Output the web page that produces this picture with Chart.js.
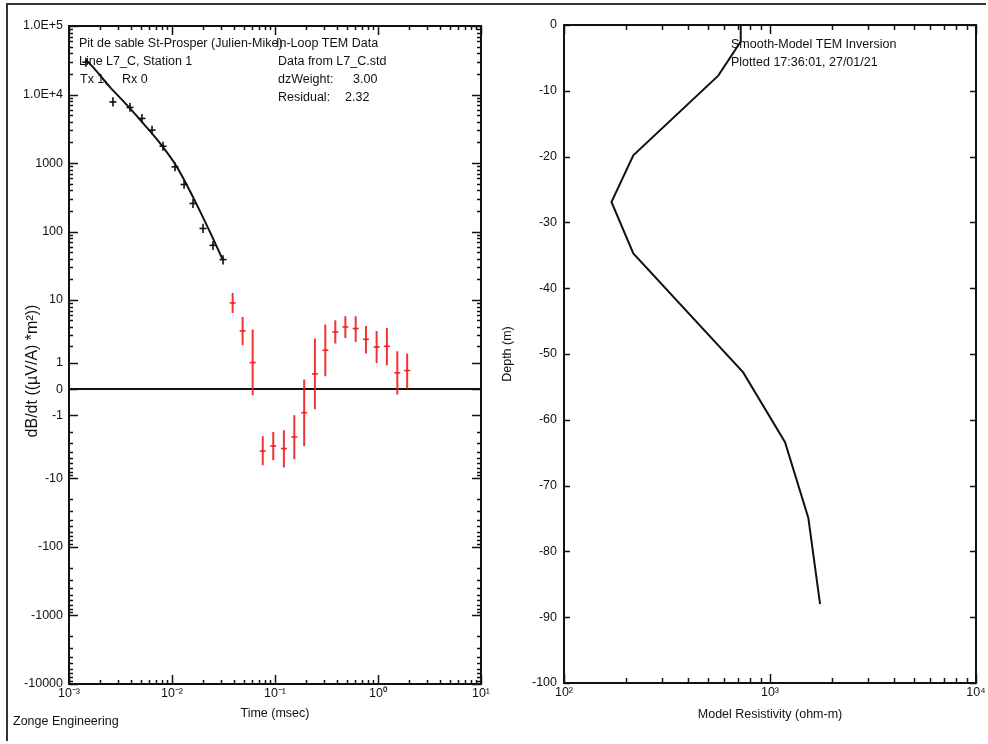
<!DOCTYPE html>
<html>
<head>
<meta charset="utf-8">
<script src="https://cdn.jsdelivr.net/npm/chart.js@4/dist/chart.umd.min.js"></script>
<style>
  body { margin: 0; background: #fff; }
  #frame { position: absolute; left: 6px; top: 3px; width: 978px; height: 736px; border: 2px solid #333; border-right: none; border-bottom: none; }
  canvas { position: absolute; top: 0; }
  #left { left: 0; }
  #right { left: 494px; }
</style>
</head>
<body>
<div id="frame"></div>
<canvas id="left" width="494" height="744"></canvas>
<canvas id="right" width="494" height="744"></canvas>
<script>
// données
const timeTicks = [0.001, 0.01, 0.1, 1, 10];
const timeLabels = ['10\u207B\u00B3', '10\u207B\u00B2', '10\u207B\u00B9', '10\u2070', '10\u00B9'];
const dbdtTicks = [1e5, 1e4, 1000, 100, 10, 1, 0, -1, -10, -100, -1000, -10000];
const dbdtLabels = ['1.0E+5', '1.0E+4', '1000', '100', '10', '1', '0', '-1', '-10', '-100', '-1000', '-10000'];

// points mesurés (noirs)
const goodTime = [0.00146, 0.00267, 0.00391, 0.00511, 0.0064, 0.00818, 0.0107, 0.0131, 0.016, 0.02, 0.025, 0.0313];
const goodVal  = [29700, 7800, 6470, 4480, 3020, 1760, 880, 486, 257, 111, 63, 39];
const goodLow  = [25500, 6700, 5600, 3850, 2600, 1510, 760, 420, 220, 95, 54, 33];
const goodHigh = [34500, 9100, 7500, 5200, 3500, 2050, 1020, 565, 300, 130, 73, 45];

// points mesurés (rouges)
const badTime = [0.0388, 0.0485, 0.0607, 0.076, 0.0962, 0.122, 0.154, 0.192, 0.244, 0.308, 0.385, 0.482, 0.607, 0.764, 0.97, 1.22, 1.54, 1.92];
const badVal  = [9.07, 3.48, 1.02, -3.92, -3.29, -3.6, -2.38, -0.87, 0.54, 1.72, 3.36, 4.0, 3.78, 2.59, 1.95, 2.0, 0.58, 0.67];
const badLow  = [6.46, 2.08, -0.2, -6.4, -5.39, -6.91, -5.21, -3.29, -0.72, 0.45, 2.22, 2.71, 2.35, 1.51, 1.0, 0.9, -0.18, 0.02];
const badHigh = [12.7, 5.64, 3.65, -2.32, -1.98, -1.86, -0.99, 0.33, 2.66, 4.34, 5.03, 5.77, 5.77, 4.14, 3.48, 3.86, 1.65, 1.51];

// courbe du modèle
const modelTime = [0.00146, 0.00171, 0.0025, 0.00366, 0.00523, 0.00764, 0.0112, 0.016, 0.0234, 0.0313];
const modelVal  = [31800, 25100, 12820, 7000, 3820, 1950, 871, 318, 98, 38];

// modèle de résistivité
const resTicks = [100, 1000, 10000];
const resLabels = ['10\u00B2', '10\u00B3', '10\u2074'];
const depthTicks = [0, -10, -20, -30, -40, -50, -60, -70, -80, -90, -100];
const resistivity = [721, 721, 561, 217, 170, 217, 741, 1183, 1535, 1750];
const depth = [0, -2.5, -7.7, -19.8, -26.9, -34.7, -52.8, -63.4, -74.9, -88.0];

const FONT = '"Liberation Sans", Arial, sans-serif';
Chart.defaults.font.family = FONT;
Chart.defaults.font.size = 12.5;
Chart.defaults.color = '#111';

// échelle asinh (log symétrique) pour dB/dt
class AsinhScale extends Chart.Scale {
  determineDataLimits() {
    this.min = this.options.min;
    this.max = this.options.max;
  }
  buildTicks() {
    return dbdtTicks.map(v => ({ value: v }));
  }
  configure() {
    super.configure();
    this._lo = Math.asinh(this.min);
    this._range = Math.asinh(this.max) - this._lo;
  }
  getPixelForValue(v) {
    return this.getPixelForDecimal((Math.asinh(v) - this._lo) / this._range);
  }
  getValueForPixel(p) {
    return Math.sinh(this._lo + this.getDecimalForPixel(p) * this._range);
  }
}
AsinhScale.id = 'asinh';
AsinhScale.defaults = {};
Chart.register(AsinhScale);

function decadeMinors(from, to) {
  const out = [];
  for (let d = from; d < to; d *= 10) {
    for (let k = 2; k <= 9; k++) out.push(k * d);
  }
  return out;
}

// petites graduations vers l'intérieur + cadre
const innerTicks = {
  id: 'innerTicks',
  afterDraw(chart, args, opts) {
    const ctx = chart.ctx;
    const a = chart.chartArea;
    ctx.save();
    ctx.strokeStyle = '#111';
    ctx.lineWidth = 1.5;
    ctx.beginPath();
    (opts.x || []).forEach(([v, len]) => {
      const px = Math.round(chart.scales.x.getPixelForValue(v)) + 0.5;
      ctx.moveTo(px, a.bottom); ctx.lineTo(px, a.bottom - len);
      ctx.moveTo(px, a.top); ctx.lineTo(px, a.top + len);
    });
    (opts.y || []).forEach(([v, len]) => {
      const py = Math.round(chart.scales.y.getPixelForValue(v)) + 0.5;
      ctx.moveTo(a.left, py); ctx.lineTo(a.left + len, py);
      ctx.moveTo(a.right, py); ctx.lineTo(a.right - len, py);
    });
    ctx.stroke();
    ctx.lineWidth = 2;
    ctx.strokeRect(a.left, a.top, a.width, a.height);
    ctx.restore();
  }
};

// barres d'erreur
const errorBars = {
  id: 'errorBars',
  beforeDatasetsDraw(chart) {
    const ctx = chart.ctx;
    const xs = chart.scales.x, ys = chart.scales.y;
    chart.data.datasets.forEach(ds => {
      if (!ds.errLow) return;
      ctx.save();
      ctx.strokeStyle = ds.borderColor;
      ctx.lineWidth = ds.barWidth;
      ctx.beginPath();
      ds.data.forEach((p, i) => {
        const px = xs.getPixelForValue(p.x);
        ctx.moveTo(px, ys.getPixelForValue(ds.errLow[i]));
        ctx.lineTo(px, ys.getPixelForValue(ds.errHigh[i]));
      });
      ctx.stroke();
      ctx.restore();
    });
  }
};

// textes libres
const freeText = {
  id: 'freeText',
  afterDraw(chart, args, opts) {
    const ctx = chart.ctx;
    ctx.save();
    ctx.fillStyle = '#111';
    ctx.textBaseline = 'middle';
    (opts.items || []).forEach(t => {
      ctx.save();
      ctx.font = (t.size || 12.5) + 'px ' + FONT;
      ctx.translate(t.x, t.y);
      if (t.rot) ctx.rotate(t.rot);
      ctx.textAlign = t.align || 'left';
      ctx.fillText(t.text, 0, 0);
      ctx.restore();
    });
    ctx.restore();
  }
};

const timeMarks = timeTicks.map(v => [v, 9]).concat(decadeMinors(0.001, 10).map(v => [v, 4]));
const posMinor = decadeMinors(1, 1e5);
const dbdtMarks = dbdtTicks.map(v => [v, 9])
  .concat(posMinor.map(v => [v, 4]))
  .concat(decadeMinors(1, 1e4).map(v => [-v, 4]));

new Chart(document.getElementById('left'), {
  type: 'scatter',
  data: {
    datasets: [
      {
        data: modelTime.map((t, i) => ({ x: t, y: modelVal[i] })),
        showLine: true,
        borderColor: '#111',
        borderWidth: 2,
        pointRadius: 0,
        cubicInterpolationMode: 'monotone'
      },
      {
        data: goodTime.map((t, i) => ({ x: t, y: goodVal[i] })),
        errLow: goodLow,
        errHigh: goodHigh,
        barWidth: 1.6,
        borderColor: '#111',
        pointStyle: 'line',
        pointRadius: 3.5,
        pointBorderWidth: 1.6,
        pointBorderColor: '#111'
      },
      {
        data: badTime.map((t, i) => ({ x: t, y: badVal[i] })),
        errLow: badLow,
        errHigh: badHigh,
        barWidth: 2,
        borderColor: 'rgba(236,30,30,0.9)',
        pointStyle: 'line',
        pointRadius: 3,
        pointBorderWidth: 1.6,
        pointBorderColor: 'rgba(236,30,30,0.95)'
      }
    ]
  },
  options: {
    responsive: false,
    devicePixelRatio: 1,
    animation: false,
    events: [],
    layout: { padding: { top: 26, right: 13, bottom: 0, left: 0 } },
    plugins: {
      legend: { display: false },
      tooltip: { enabled: false },
      innerTicks: { x: timeMarks, y: dbdtMarks },
      freeText: {
        items: [
          { text: 'Pit de sable St-Prosper (Julien-Mike)', x: 79, y: 44 },
          { text: 'In-Loop TEM Data', x: 276, y: 44 },
          { text: 'Line L7_C, Station 1', x: 79, y: 62 },
          { text: 'Data from L7_C.std', x: 278, y: 62 },
          { text: 'Tx 1,', x: 80, y: 80 },
          { text: 'Rx 0', x: 122, y: 80 },
          { text: 'dzWeight:', x: 278, y: 80 },
          { text: '3.00', x: 353, y: 80 },
          { text: 'Residual:', x: 278, y: 98 },
          { text: '2.32', x: 345, y: 98 },
          { text: 'Zonge Engineering', x: 13, y: 722 },
          { text: 'dB/dt ((\u00B5V/A) *m\u00B2))', x: 33, y: 371, size: 16, rot: -Math.PI / 2, align: 'center' }
        ]
      }
    },
    scales: {
      x: {
        type: 'logarithmic',
        min: 0.001,
        max: 10,
        afterBuildTicks: s => { s.ticks = timeTicks.map(v => ({ value: v })); },
        afterFit: s => { s.height = 60; },
        grid: { display: false, drawTicks: false },
        border: { display: false },
        ticks: { autoSkip: false, maxRotation: 0, padding: 2, callback: (v, i) => timeLabels[i] },
        title: { display: true, text: 'Time (msec)', padding: { top: 0, bottom: 22.5 } }
      },
      y: {
        type: 'asinh',
        min: -10000,
        max: 1e5,
        afterFit: s => { s.width = 69; },
        grid: {
          drawTicks: false,
          lineWidth: 2,
          color: c => (c.tick && c.tick.value === 0 ? '#111' : 'rgba(0,0,0,0)')
        },
        border: { display: false },
        ticks: { autoSkip: false, padding: 6, callback: (v, i) => dbdtLabels[i] }
      }
    }
  },
  plugins: [errorBars, innerTicks, freeText]
});

const resMarks = resTicks.map(v => [v, 9]).concat(decadeMinors(100, 10000).map(v => [v, 5]));
const depthMarks = depthTicks.map(v => [v, 6]);

new Chart(document.getElementById('right'), {
  type: 'scatter',
  data: {
    datasets: [{
      data: resistivity.map((r, i) => ({ x: r, y: depth[i] })),
      showLine: true,
      borderColor: '#111',
      borderWidth: 2,
      pointRadius: 0
    }]
  },
  options: {
    responsive: false,
    devicePixelRatio: 1,
    animation: false,
    events: [],
    layout: { padding: { top: 25, right: 12, bottom: 0, left: 0 } },
    plugins: {
      legend: { display: false },
      tooltip: { enabled: false },
      innerTicks: { x: resMarks, y: depthMarks },
      freeText: {
        items: [
          { text: 'Smooth-Model TEM Inversion', x: 237, y: 45 },
          { text: 'Plotted 17:36:01, 27/01/21', x: 237, y: 63 }
        ]
      }
    },
    scales: {
      x: {
        type: 'logarithmic',
        min: 100,
        max: 10000,
        afterBuildTicks: s => { s.ticks = resTicks.map(v => ({ value: v })); },
        afterFit: s => { s.height = 61; },
        grid: { display: false, drawTicks: false },
        border: { display: false },
        ticks: { autoSkip: false, maxRotation: 0, padding: 2, callback: (v, i) => resLabels[i] },
        title: { display: true, text: 'Model Resistivity (ohm-m)', padding: { top: 0, bottom: 21.5 } }
      },
      y: {
        type: 'linear',
        min: -100,
        max: 0,
        afterBuildTicks: s => { s.ticks = depthTicks.map(v => ({ value: v })); },
        afterFit: s => { s.width = 70; },
        grid: { display: false, drawTicks: false },
        border: { display: false },
        ticks: { autoSkip: false, padding: 7, callback: v => String(v) },
        title: { display: true, text: 'Depth (m)', padding: { top: 6.5, bottom: 0 } }
      }
    }
  },
  plugins: [innerTicks, freeText]
});
</script>
</body>
</html>
